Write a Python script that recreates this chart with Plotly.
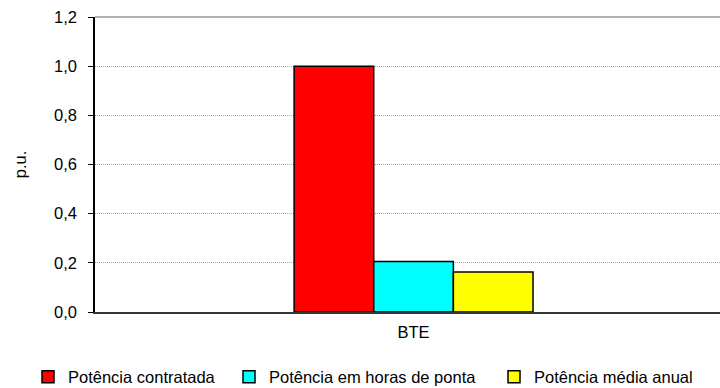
import plotly.graph_objects as go

# Data
categories = ["BTE"]
series_names = ["Potência contratada", "Potência em horas de ponta", "Potência média anual"]
series_values = [[1.0], [0.205], [0.163]]
series_colors = ["#FF0000", "#00FFFF", "#FFFF00"]
y_ticks = [0.0, 0.2, 0.4, 0.6, 0.8, 1.0, 1.2]

FONT = dict(family="Liberation Sans, Arial, sans-serif", size=16.5, color="#000000")

# One legend per series so each entry can sit at its own spot on the bottom row
legend_ids = ["legend", "legend2", "legend3"]
legend_x = [28, 229, 494]

fig = go.Figure()
for name, vals, col, lid in zip(series_names, series_values, series_colors, legend_ids):
    fig.add_trace(go.Bar(
        x=categories, y=vals, name=name,
        marker=dict(color=col, line=dict(color="#000000", width=1.5)),
        legend=lid,
    ))

legend_common = dict(
    orientation="h", xref="container", yref="container",
    xanchor="left", yanchor="middle", y=1 - 377 / 388,
    font=FONT, bgcolor="rgba(0,0,0,0)", borderwidth=0,
    itemwidth=30, tracegroupgap=0,
)

layout_legends = {}
for lid, lx in zip(legend_ids, legend_x):
    layout_legends[lid] = dict(legend_common, x=lx / 720)

fig.update_layout(
    width=720, height=388,
    margin=dict(l=95, r=0, t=17, b=76),
    paper_bgcolor="#FFFFFF", plot_bgcolor="#FFFFFF",
    font=FONT,
    separators=",.",
    barmode="group", bargap=0.625, bargroupgap=0,
    showlegend=True,
    **layout_legends,
)

fig.update_yaxes(
    range=[0, 1.2], tickvals=y_ticks, tickformat=".1f",
    showline=True, linecolor="#000000", linewidth=1.5,
    ticks="outside", ticklen=5, tickcolor="#000000", tickwidth=1,
    ticklabelstandoff=8,
    showgrid=True, gridcolor="#A8A8A8", griddash="1px,1px", gridwidth=1,
    zeroline=False,
    title=dict(text="p.u.", font=FONT, standoff=23),
    automargin=False,
)
fig.update_xaxes(
    range=[-0.5, 0.481],
    showline=True, linecolor="#333333", linewidth=2,
    ticks="", showgrid=False, ticklabelstandoff=4,
    automargin=False,
)

# Gray frame line along the top of the plot area
fig.add_shape(type="line", xref="paper", yref="paper", x0=0, x1=1, y0=1, y1=1,
              line=dict(color="#999999", width=1.5))

fig.write_html("out.html")
